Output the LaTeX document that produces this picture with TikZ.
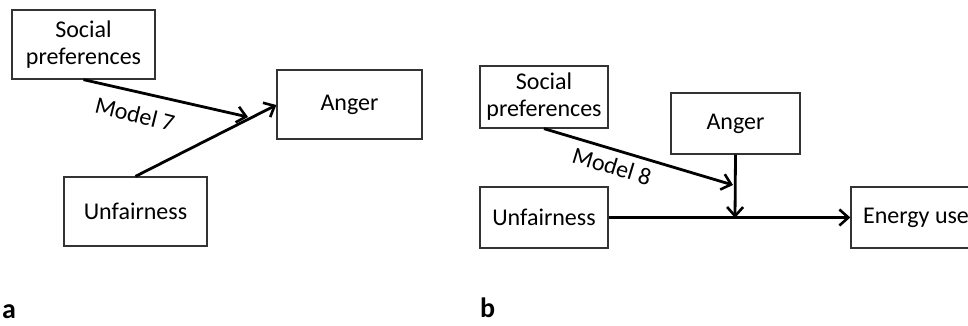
\documentclass[tikz,border=0pt]{standalone}
\usepackage{fontspec}
\setmainfont{Carlito}
\usetikzlibrary{arrows.meta}
\begin{document}
\begin{tikzpicture}[x=1pt,y=-1pt,
  box/.style={draw=black!80,line width=1.3pt,minimum height=#1,inner sep=0pt,align=center,
    font=\fontsize{24}{27}\selectfont,text=black},
  box/.default=62pt,
  conn/.style={line width=2.8pt,-{Straight Barb[length=9pt,width=16pt,line width=2.6pt]}},
  mlabel/.style={font=\fontsize{24}{26}\selectfont},
  plabel/.style={font=\fontsize{28}{30}\selectfont\bfseries,anchor=base west,inner sep=0pt}]
\useasboundingbox (0,0) rectangle (968,326);
% panel a
\node[box=69pt,minimum width=143pt] (spa) at (83.5,44.5) {Social\\preferences};
\node[box=69pt,minimum width=145pt] (anga) at (349.5,104.5) {Anger};
\node[box=69pt,minimum width=143pt] (una) at (135.5,211.5) {Unfairness};
\coordinate (ta) at (248,117);
\draw[conn] (spa.south) -- (ta);
\draw[conn] (una.north) -- (anga.west |- 0,105);
\node[mlabel,rotate=-14] (m7) at (135,114) {Model 7};
\node[plabel] (la) at (2,318) {a};
% panel b
\node[box=62pt,minimum width=128pt] (spb) at (544,97) {Social\\preferences};
\node[box=61pt,minimum width=129pt] (angb) at (735.5,123.5) {Anger};
\node[box=61pt,minimum width=128pt] (unb) at (544,217.5) {Unfairness};
\node[box=61pt,minimum width=130pt] (en) at (916,217.5) {Energy use};
\coordinate (jb) at (735,218);
\coordinate (tb) at (733,185);
\draw[conn] (unb.east) -- (en.west);
\draw[conn] (angb.south) -- (jb);
\draw[conn] (spb.south) -- (tb);
\node[mlabel,rotate=-17] (m8) at (612,166) {Model 8};
\node[plabel] (lb) at (480,317) {b};
\end{tikzpicture}
\end{document}
